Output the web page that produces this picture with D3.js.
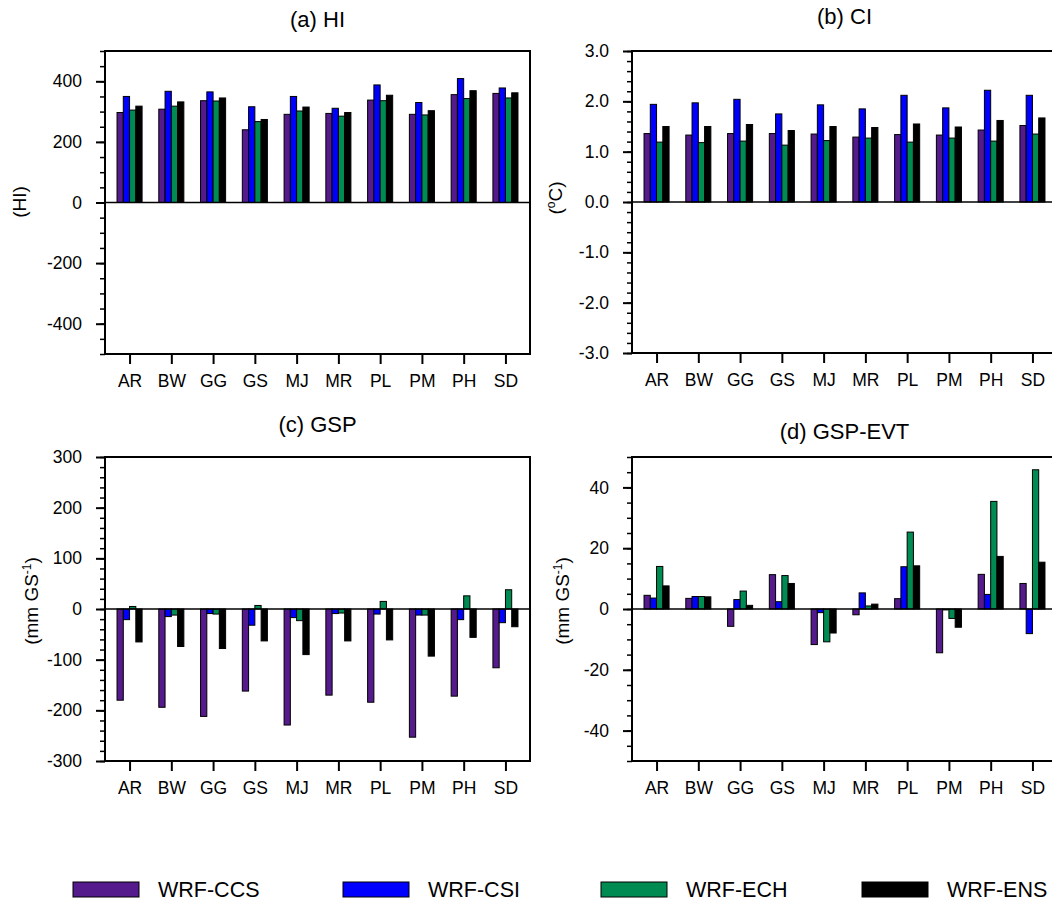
<!DOCTYPE html>
<html>
<head>
<meta charset="utf-8">
<script src="https://cdn.jsdelivr.net/npm/d3@7"></script>
<style>
  body { margin: 0; background: #fff; }
  svg { display: block; font-family: "Liberation Sans", Arial, Helvetica, sans-serif; }
</style>
</head>
<body>
<div id="chart"></div>
<script>
const stations = ["AR", "BW", "GG", "GS", "MJ", "MR", "PL", "PM", "PH", "SD"];
const models = ["WRF-CCS", "WRF-CSI", "WRF-ECH", "WRF-ENS"];
const colors = ["#551a8b", "#0000ff", "#008b52", "#000000"];

// (a) HI
const hiCCS = [297, 308, 336, 240, 291, 294, 338, 291, 356, 360];
const hiCSI = [350, 367, 365, 316, 350, 311, 388, 330, 409, 378];
const hiECH = [305, 318, 335, 267, 302, 285, 336, 289, 343, 345];
const hiENS = [318, 332, 345, 274, 315, 297, 354, 303, 369, 362];

// (b) CI
const ciCCS = [1.36, 1.33, 1.36, 1.36, 1.35, 1.29, 1.34, 1.33, 1.43, 1.52];
const ciCSI = [1.94, 1.97, 2.04, 1.75, 1.93, 1.85, 2.12, 1.87, 2.22, 2.12];
const ciECH = [1.19, 1.18, 1.21, 1.13, 1.22, 1.27, 1.19, 1.27, 1.21, 1.35];
const ciENS = [1.50, 1.50, 1.54, 1.42, 1.50, 1.48, 1.55, 1.49, 1.62, 1.67];

// (c) GSP
const gspCCS = [-180, -194, -212, -162, -229, -170, -184, -253, -172, -116];
const gspCSI = [-21, -15, -9, -32, -17, -9, -10, -12, -21, -27];
const gspECH = [5, -12, -10, 7, -23, -8, 15, -12, 26, 38];
const gspENS = [-65, -74, -78, -63, -90, -63, -61, -93, -56, -35];

// (d) GSP-EVT
const evtCCS = [4.5, 3.5, -5.7, 11.3, -11.7, -1.9, 3.4, -14.4, 11.4, 8.4];
const evtCSI = [3.6, 4.1, 3.1, 2.4, -1.2, 5.3, 13.9, -0.3, 4.8, -8.1];
const evtECH = [14.0, 4.1, 5.9, 11.0, -10.8, 1.0, 25.3, -3.1, 35.4, 45.8];
const evtENS = [7.6, 4.0, 1.2, 8.4, -7.9, 1.6, 14.2, -6.0, 17.3, 15.4];

const width = 1052;
const height = 901;
const pw = 425;

// plain hyphen for negative tick labels
const locale = d3.formatLocale({ decimal: ".", thousands: ",", grouping: [3], currency: ["", ""], minus: "-" });

const panels = [
  { title: "(a) HI", ylab: ["(HI)"], left: 105, top: 51, bottom: 354, titleY: 27, labX: 19, labY: 202,
    domain: [-500, 500], major: d3.range(-400, 401, 200), minor: d3.range(-500, 501, 50), fmt: locale.format("d"),
    series: [hiCCS, hiCSI, hiECH, hiENS] },
  { title: "(b) CI", ylab: ["(", "o", "C)"], left: 632, top: 51, bottom: 353, titleY: 24, labX: 555, labY: 198,
    domain: [-3, 3], major: d3.range(-3, 3.01, 1), minor: d3.range(-3, 3.01, 0.2), fmt: locale.format(".1f"),
    series: [ciCCS, ciCSI, ciECH, ciENS] },
  { title: "(c) GSP", ylab: ["(mm GS", "-1", ")"], left: 105, top: 457, bottom: 761, titleY: 432, labX: 31, labY: 601,
    domain: [-300, 300], major: d3.range(-300, 301, 100), minor: d3.range(-300, 301, 20), fmt: locale.format("d"),
    series: [gspCCS, gspCSI, gspECH, gspENS] },
  { title: "(d) GSP-EVT", ylab: ["(mm GS", "-1", ")"], left: 632, top: 457, bottom: 761, titleY: 439, labX: 562, labY: 601,
    domain: [-50, 50], major: d3.range(-40, 41, 20), minor: d3.range(-50, 51, 5), fmt: locale.format("d"),
    series: [evtCCS, evtCSI, evtECH, evtENS] }
];

const svg = d3.select("#chart")
  .append("svg")
  .attr("width", width)
  .attr("height", height);

svg.append("rect").attr("width", width).attr("height", height).attr("fill", "#fff");

const barW = 0.15;
const offsets = [-0.225, -0.075, 0.075, 0.225];

panels.forEach(p => {
  const ph = p.bottom - p.top;
  const x = d3.scaleLinear().domain([0.412, 10.588]).range([0, pw]);
  const y = d3.scaleLinear().domain(p.domain).range([ph, 0]);

  const g = svg.append("g").attr("transform", `translate(${p.left},${p.top})`);

  // bars
  p.series.forEach((vals, k) => {
    g.selectAll(null)
      .data(vals)
      .enter()
      .append("rect")
      .attr("x", (d, i) => x(i + 1 + offsets[k] - barW / 2))
      .attr("width", x(barW) - x(0))
      .attr("y", d => y(Math.max(0, d)))
      .attr("height", d => Math.abs(y(d) - y(0)))
      .attr("fill", colors[k])
      .attr("stroke", "#000")
      .attr("stroke-width", 1);
  });

  // zero line
  g.append("line")
    .attr("x1", 0).attr("x2", pw)
    .attr("y1", y(0)).attr("y2", y(0))
    .attr("stroke", "#000").attr("stroke-width", 1.5);

  // minor ticks
  const minorAxis = g.append("g")
    .call(d3.axisLeft(y).tickValues(p.minor).tickSize(5).tickFormat(""));
  minorAxis.select(".domain").remove();
  minorAxis.selectAll("line").attr("stroke-width", 1.5);

  // major ticks
  const yAxis = g.append("g")
    .call(d3.axisLeft(y).tickValues(p.major).tickSize(9).tickPadding(14).tickFormat(p.fmt));
  yAxis.select(".domain").remove();
  yAxis.selectAll("line").attr("stroke-width", 2);
  yAxis.selectAll("text").attr("font-size", 17.5).attr("fill", "#000")
    .attr("font-family", "Liberation Sans, Arial, sans-serif");

  const xAxis = g.append("g")
    .attr("transform", `translate(0,${ph})`)
    .call(d3.axisBottom(x).tickValues(d3.range(1, 11)).tickSize(10).tickPadding(11)
      .tickFormat(i => stations[i - 1]));
  xAxis.select(".domain").remove();
  xAxis.selectAll("line").attr("stroke-width", 2);
  xAxis.selectAll("text").attr("font-size", 17.5).attr("fill", "#000")
    .attr("font-family", "Liberation Sans, Arial, sans-serif");

  // frame
  g.append("rect")
    .attr("width", pw).attr("height", ph)
    .attr("fill", "none").attr("stroke", "#000").attr("stroke-width", 2);

  // title
  svg.append("text")
    .attr("x", p.left + pw / 2)
    .attr("y", p.titleY)
    .attr("text-anchor", "middle")
    .attr("font-size", 22)
    .text(p.title);

  // y axis label
  const lab = svg.append("text")
    .attr("transform", `translate(${p.labX},${p.labY}) rotate(-90)`)
    .attr("text-anchor", "middle")
    .attr("dy", "0.35em")
    .attr("font-size", 19);
  p.ylab.forEach(s => {
    const t = lab.append("tspan").text(s);
    if (s === "o" || s === "-1") {
      t.attr("font-size", 12).attr("baseline-shift", "super");
    }
  });
});

// legend
const legendX = [73, 343, 601, 862];
const legend = svg.append("g");
models.forEach((m, k) => {
  legend.append("rect")
    .attr("x", legendX[k]).attr("y", 882)
    .attr("width", 66).attr("height", 15)
    .attr("fill", colors[k]).attr("stroke", "#000").attr("stroke-width", 1);
  legend.append("text")
    .attr("x", legendX[k] + 85).attr("y", 897)
    .attr("font-size", 21.5)
    .text(m);
});
</script>
</body>
</html>
